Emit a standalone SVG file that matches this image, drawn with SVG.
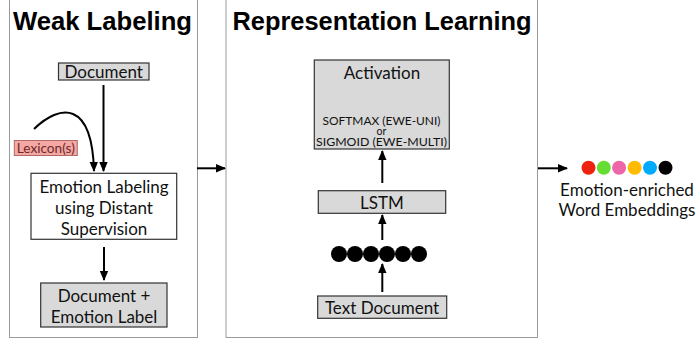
<svg xmlns="http://www.w3.org/2000/svg" width="698" height="345" viewBox="0 0 698 345">
<style>
.panel{fill:#ffffff;stroke:#9a9a9a;stroke-width:1}
.title{font-family:"Liberation Sans",Arial,sans-serif;font-weight:bold;font-size:25px;fill:#000;text-anchor:middle}
.gbox{fill:#d9d9d9;stroke:#333;stroke-width:1.2}
.wbox{fill:#ffffff;stroke:#333;stroke-width:1.2}
.lbl{font-family:Lato,"Open Sans",sans-serif;font-size:17px;fill:#111;text-anchor:middle}
.small{font-family:Lato,"Open Sans",sans-serif;font-size:10.5px;fill:#111;text-anchor:middle}
.lex{fill:#f5a7a4;stroke:#b06a66;stroke-width:1}
.lextext{font-family:Lato,"Open Sans",sans-serif;font-size:13px;fill:#6b2a26;text-anchor:middle}
.arr{fill:none;stroke:#000;stroke-width:2;marker-end:url(#ah)}
</style>
<defs>
<marker id="ah" markerUnits="userSpaceOnUse" markerWidth="10" markerHeight="10" viewBox="0 0 10 10" refX="9" refY="5" orient="auto">
<path d="M0,0.8 L10,5 L0,9.2 Z" fill="#000"/>
</marker>
</defs>
<rect width="698" height="345" fill="#ffffff"/>
<g id="panel-weak">
<rect class="panel" x="9.5" y="-5" width="188" height="342.5"/>
<text class="title" x="102.5" y="29.5" textLength="179" lengthAdjust="spacingAndGlyphs">Weak Labeling</text>
</g>
<g id="panel-rep">
<rect class="panel" x="226" y="-5" width="311.5" height="342.5"/>
<text class="title" x="382" y="29.5" textLength="299" lengthAdjust="spacingAndGlyphs">Representation Learning</text>
</g>
<g id="document">
<rect class="gbox" x="58.5" y="63" width="90.5" height="17"/>
<text class="lbl" x="103.7" y="77.5">Document</text>
</g>
<g id="lexicon">
<rect class="lex" x="14.3" y="140.5" width="63" height="15"/>
<text class="lextext" x="45.8" y="152.8" textLength="58" lengthAdjust="spacingAndGlyphs">Lexicon(s)</text>
</g>
<g id="emotion-labeling">
<rect class="wbox" x="31" y="173.3" width="145.7" height="66"/>
<text class="lbl" x="104" y="192.5">Emotion Labeling</text>
<text class="lbl" x="104" y="214">using Distant</text>
<text class="lbl" x="104" y="235">Supervision</text>
</g>
<g id="doc-emotion-label">
<rect class="gbox" x="40.7" y="283" width="126.3" height="44"/>
<text class="lbl" x="104" y="301.5">Document +</text>
<text class="lbl" x="104" y="322.5">Emotion Label</text>
</g>
<g id="activation">
<rect class="gbox" x="314.3" y="60" width="135" height="89"/>
<text class="lbl" x="382" y="78.5">Activation</text>
<text class="small" x="381.5" y="124.5" textLength="118" lengthAdjust="spacingAndGlyphs">SOFTMAX (EWE-UNI)</text>
<text class="small" x="381.5" y="135">or</text>
<text class="small" x="381.5" y="145.5" textLength="131" lengthAdjust="spacingAndGlyphs">SIGMOID (EWE-MULTI)</text>
</g>
<g id="lstm">
<rect class="gbox" x="318.3" y="190.7" width="127.4" height="22.6"/>
<text class="lbl" x="382" y="208.5">LSTM</text>
</g>
<g id="word-vectors">
<circle cx="339" cy="254" r="8" fill="#000"/>
<circle cx="355" cy="254" r="8" fill="#000"/>
<circle cx="371" cy="254" r="8" fill="#000"/>
<circle cx="387" cy="254" r="8" fill="#000"/>
<circle cx="403" cy="254" r="8" fill="#000"/>
<circle cx="419" cy="254" r="8" fill="#000"/>
</g>
<g id="text-document">
<rect class="gbox" x="317.7" y="296" width="129" height="22.3"/>
<text class="lbl" x="382" y="313.5">Text Document</text>
</g>
<g id="embeddings">
<circle cx="588.5" cy="167.8" r="7" fill="#ee2211"/>
<circle cx="603.8" cy="167.8" r="7" fill="#66dd33"/>
<circle cx="619.1" cy="167.8" r="7" fill="#ee66aa"/>
<circle cx="634.6" cy="167.8" r="7" fill="#ffbb00"/>
<circle cx="650" cy="167.8" r="7" fill="#00aaff"/>
<circle cx="665.5" cy="167.8" r="7" fill="#000000"/>
<text class="lbl" x="627" y="196">Emotion-enriched</text>
<text class="lbl" x="627" y="216">Word Embeddings</text>
</g>
<g id="connectors">
<path class="arr" d="M103.5,85 L103.5,171"/>
<path class="arr" d="M34,129 C60,104 92,100 94,171"/>
<path class="arr" d="M104,247 L104,280"/>
<path class="arr" d="M197,168.3 L225,168.3"/>
<path class="arr" d="M382.3,183 L382.3,151"/>
<path class="arr" d="M382.3,240 L382.3,215"/>
<path class="arr" d="M382.3,292 L382.3,264"/>
<path class="arr" d="M538,168.3 L567,168.3"/>
</g>
</svg>
